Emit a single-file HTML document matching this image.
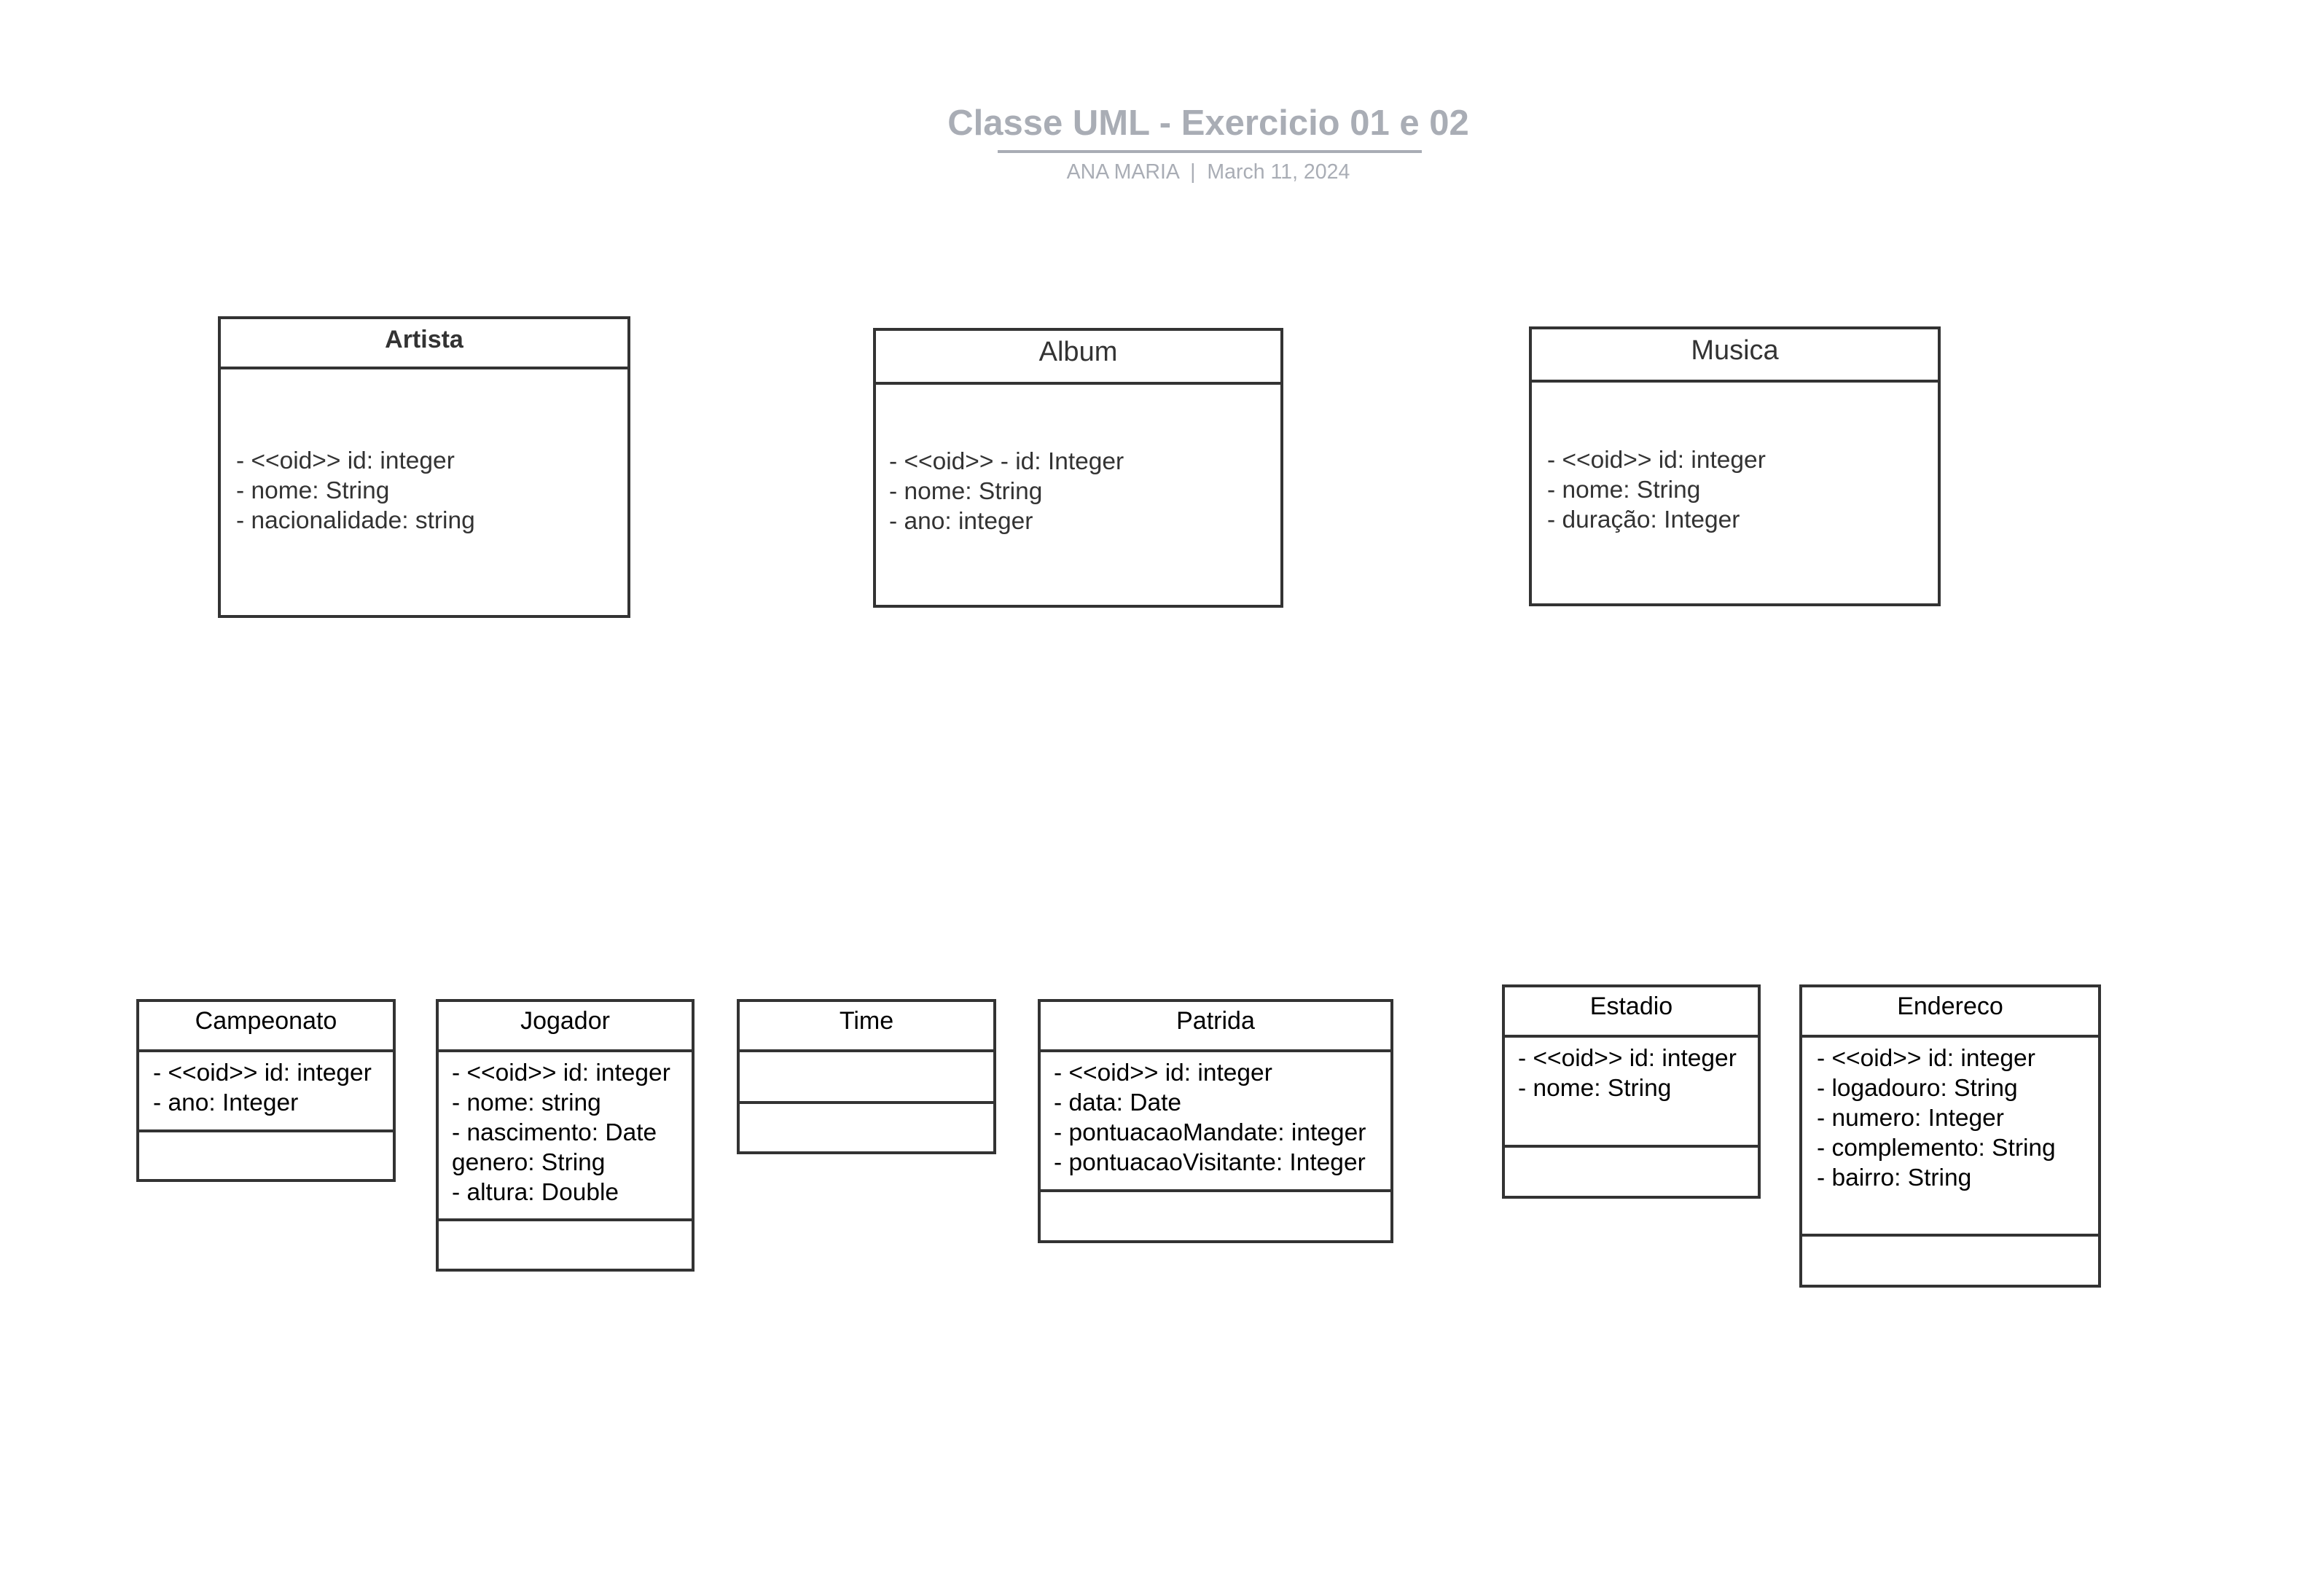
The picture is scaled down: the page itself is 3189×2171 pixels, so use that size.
<!DOCTYPE html>
<html><head><meta charset="utf-8"><style>
body{margin:0;width:3189px;height:2171px;background:#fff;position:relative;overflow:hidden;font-family:"Liberation Sans",sans-serif}
.b{position:absolute;border:4px solid #333;box-sizing:border-box}
.h{position:absolute;height:4px;background:#333}
.t{position:absolute;font-size:33.5px;line-height:41px;white-space:pre;color:#333}
.k{color:#000;font-size:33.5px}
.c{position:absolute;text-align:center;font-size:34px;line-height:40px;white-space:pre}
</style></head><body>
<div class="c" style="left:1208px;width:900px;top:139px;font-size:49px;line-height:60px;font-weight:bold;color:#a9adb5">Classe UML - Exercicio 01 e 02</div>
<div style="position:absolute;left:1369px;top:206px;width:582px;height:4px;background:#a9adb5"></div>
<div class="c" style="left:1208px;width:900px;top:219px;font-size:28.5px;line-height:34px;color:#a9adb5">ANA MARIA  |  March 11, 2024</div>

<!-- Artista -->
<div class="b" style="left:299px;top:434px;width:566px;height:414px"></div>
<div class="h" style="left:299px;top:503px;width:566px"></div>
<div class="c" style="left:299px;width:566px;top:446px;font-weight:bold;color:#333">Artista</div>
<div class="t" style="left:324px;top:612px">- &lt;&lt;oid&gt;&gt; id: integer
- nome: String
- nacionalidade: string</div>

<!-- Album -->
<div class="b" style="left:1198px;top:450px;width:563px;height:384px"></div>
<div class="h" style="left:1198px;top:524px;width:563px"></div>
<div class="c" style="left:1198px;width:563px;top:463px;font-size:38px;color:#333">Album</div>
<div class="t" style="left:1220px;top:613px">- &lt;&lt;oid&gt;&gt; - id: Integer
- nome: String
- ano: integer</div>

<!-- Musica -->
<div class="b" style="left:2098px;top:448px;width:565px;height:384px"></div>
<div class="h" style="left:2098px;top:521px;width:565px"></div>
<div class="c" style="left:2098px;width:565px;top:461px;font-size:38px;color:#333">Musica</div>
<div class="t" style="left:2123px;top:611px">- &lt;&lt;oid&gt;&gt; id: integer
- nome: String
- duração: Integer</div>

<!-- Campeonato -->
<div class="b" style="left:187px;top:1371px;width:356px;height:251px"></div>
<div class="h" style="left:187px;top:1440px;width:356px"></div>
<div class="h" style="left:187px;top:1550px;width:356px"></div>
<div class="c k" style="left:187px;width:356px;top:1381px">Campeonato</div>
<div class="t k" style="left:210px;top:1452px">- &lt;&lt;oid&gt;&gt; id: integer
- ano: Integer</div>

<!-- Jogador -->
<div class="b" style="left:598px;top:1371px;width:355px;height:374px"></div>
<div class="h" style="left:598px;top:1440px;width:355px"></div>
<div class="h" style="left:598px;top:1672px;width:355px"></div>
<div class="c k" style="left:598px;width:355px;top:1381px">Jogador</div>
<div class="t k" style="left:620px;top:1452px">- &lt;&lt;oid&gt;&gt; id: integer
- nome: string
- nascimento: Date
genero: String
- altura: Double</div>

<!-- Time -->
<div class="b" style="left:1011px;top:1371px;width:356px;height:213px"></div>
<div class="h" style="left:1011px;top:1440px;width:356px"></div>
<div class="h" style="left:1011px;top:1511px;width:356px"></div>
<div class="c k" style="left:1011px;width:356px;top:1381px">Time</div>

<!-- Patrida -->
<div class="b" style="left:1424px;top:1371px;width:488px;height:335px"></div>
<div class="h" style="left:1424px;top:1440px;width:488px"></div>
<div class="h" style="left:1424px;top:1632px;width:488px"></div>
<div class="c k" style="left:1424px;width:488px;top:1381px">Patrida</div>
<div class="t k" style="left:1446px;top:1452px">- &lt;&lt;oid&gt;&gt; id: integer
- data: Date
- pontuacaoMandate: integer
- pontuacaoVisitante: Integer</div>

<!-- Estadio -->
<div class="b" style="left:2061px;top:1351px;width:355px;height:294px"></div>
<div class="h" style="left:2061px;top:1420px;width:355px"></div>
<div class="h" style="left:2061px;top:1571px;width:355px"></div>
<div class="c k" style="left:2061px;width:355px;top:1361px">Estadio</div>
<div class="t k" style="left:2083px;top:1432px">- &lt;&lt;oid&gt;&gt; id: integer
- nome: String</div>

<!-- Endereco -->
<div class="b" style="left:2469px;top:1351px;width:414px;height:416px"></div>
<div class="h" style="left:2469px;top:1420px;width:414px"></div>
<div class="h" style="left:2469px;top:1693px;width:414px"></div>
<div class="c k" style="left:2469px;width:414px;top:1361px">Endereco</div>
<div class="t k" style="left:2493px;top:1432px">- &lt;&lt;oid&gt;&gt; id: integer
- logadouro: String
- numero: Integer
- complemento: String
- bairro: String</div>
</body></html>
